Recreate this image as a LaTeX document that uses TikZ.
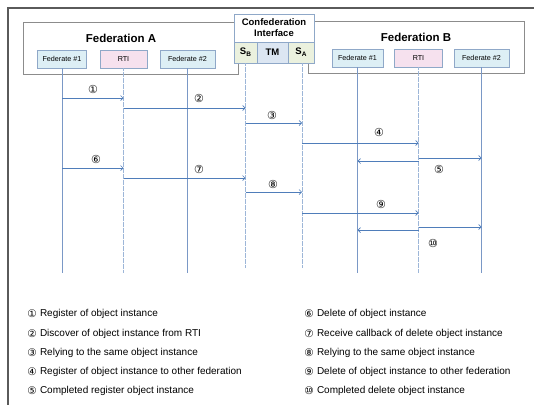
\documentclass[tikz,border=0pt]{standalone}
\usepackage{fontspec}
\setmainfont{Liberation Sans}
\newfontfamily\circfont{DejaVu Sans}
\usetikzlibrary{arrows.meta}
\definecolor{outer}{HTML}{5A5A5A}
\definecolor{boxgray}{HTML}{8C8C8C}
\definecolor{membbord}{HTML}{8FA8C8}
\definecolor{membfill}{HTML}{DDEFF5}
\definecolor{rtifill}{HTML}{F6E1EE}
\definecolor{sfill}{HTML}{EBF1DE}
\definecolor{tmfill}{HTML}{DCE6F2}
\definecolor{lifeblue}{HTML}{7A98C6}
\definecolor{dotblue}{HTML}{9DB6D8}
\definecolor{arrblue}{HTML}{4F7DBA}
\begin{document}
\begin{tikzpicture}[x=1pt,y=-1pt,
  every node/.style={inner sep=0pt, outer sep=0pt},
  fedbox/.style={draw=boxgray, line width=0.8pt},
  member/.style={draw=membbord, fill=membfill, line width=0.6pt, minimum height=18pt, font=\fontsize{7.2}{8}\selectfont},
  rtibox/.style={member, fill=rtifill},
  scell/.style={draw=membbord, fill=sfill, line width=0.6pt, minimum height=21pt, font=\bfseries\fontsize{9.5}{10}\selectfont},
  tmcell/.style={scell, fill=tmfill},
  title/.style={font=\bfseries\fontsize{11.5}{12}\selectfont},
  life/.style={draw=lifeblue, line width=0.7pt},
  dlife/.style={draw=dotblue, line width=0.9pt, dash pattern=on 0.6pt off 0.6pt},
  msg/.style={draw=arrblue, line width=0.7pt, -{Straight Barb[length=2.5pt,width=5pt]}},
  num/.style={font=\circfont\fontsize{11}{11}\selectfont},
  leg/.style={anchor=west, font=\fontsize{10}{12}\selectfont},
  legc/.style={font=\circfont\fontsize{10.5}{11}\selectfont},
]
\useasboundingbox (0,0) rectangle (534,405);
% outer frame (top and left edges)
\draw[outer, line width=1.6pt] (534,8) -- (8,8) -- (8,405);
% federation boxes
\draw[fedbox] (23,22) rectangle (238,74);
\draw[fedbox] (308,21) rectangle (524,73);
% confederation interface
\node[draw=membbord, fill=white, line width=0.6pt, minimum width=80pt, minimum height=28pt,
      align=center, font=\bfseries\fontsize{9.5}{11}\selectfont] (ci) at (274,28) {Confederation\\Interface};
\node[scell, minimum width=23pt] (sb) at (245.5,52.5) {S\raisebox{-2pt}{\fontsize{6.5}{7}\selectfont B}};
\node[tmcell, minimum width=31pt] (tm) at (272.5,52.5) {TM};
\node[scell, minimum width=26pt] (sa) at (301,52.5) {S\raisebox{-2pt}{\fontsize{6.5}{7}\selectfont A}};
% titles
\node[title] (ta) at (121,38) {Federation A};
\node[title] (tb) at (416,37) {Federation B};
% members
\node[member, minimum width=49pt] (fa1) at (62,59) {Federate \#1};
\node[rtibox, minimum width=47pt] (ra) at (123.5,59) {RTI};
\node[member, minimum width=55pt] (fa2) at (187.5,59) {Federate \#2};
\node[member, minimum width=51pt] (fb1) at (357.5,58) {Federate \#1};
\node[rtibox, minimum width=48pt] (rb) at (418.5,58) {RTI};
\node[member, minimum width=55pt] (fb2) at (481.5,58) {Federate \#2};
% lifeline ends
\coordinate (efa1) at (62,273);
\coordinate (era) at (123.5,273);
\coordinate (efa2) at (187.5,273);
\coordinate (esb) at (245.5,268);
\coordinate (esa) at (302,268);
\coordinate (efb1) at (357.5,273);
\coordinate (erb) at (418.5,273);
\coordinate (efb2) at (481.5,273);
\draw[life] (fa1.south) -- (efa1);
\draw[dlife] (ra.south) -- (era);
\draw[life] (fa2.south) -- (efa2);
\draw[dlife] (sb.south) -- (esb);
\draw[dlife] (esa |- sa.south) -- (esa);
\draw[life] (fb1.south) -- (efb1);
\draw[dlife] (rb.south) -- (erb);
\draw[life] (fb2.south) -- (efb2);
% messages
\draw[msg] (fa1 |- 0,98) -- (ra |- 0,98);
\draw[msg] (ra |- 0,108) -- (sb |- 0,108);
\draw[msg] (sb |- 0,123) -- (esa |- 0,123);
\draw[msg] (esa |- 0,143) -- (rb |- 0,143);
\draw[msg] (rb |- 0,161) -- (fb1 |- 0,161);
\draw[msg] (rb |- 0,158) -- (fb2 |- 0,158);
\draw[msg] (fa1 |- 0,168) -- (ra |- 0,168);
\draw[msg] (ra |- 0,178) -- (sb |- 0,178);
\draw[msg] (sb |- 0,192) -- (esa |- 0,192);
\draw[msg] (esa |- 0,213) -- (rb |- 0,213);
\draw[msg] (rb |- 0,230) -- (fb1 |- 0,230);
\draw[msg] (rb |- 0,227) -- (fb2 |- 0,227);
% message labels
\node[num] (n1) at (93,89) {①};
\node[num] (n2) at (199,98) {②};
\node[num] (n3) at (272,115) {③};
\node[num] (n4) at (379,132) {④};
\node[num] (n5) at (439,169) {⑤};
\node[num] (n6) at (96,159) {⑥};
\node[num] (n7) at (199,169) {⑦};
\node[num] (n8) at (273,184) {⑧};
\node[num] (n9) at (381,204) {⑨};
\node[num] (n10) at (433,243) {⑩};
% legend left
\node[legc] (c1) at (32,314) {①}; \node[leg] (l1) at (40,314) {Register of object instance};
\node[legc] (c2) at (32,334) {②}; \node[leg] (l2) at (40,334) {Discover of object instance from RTI};
\node[legc] (c3) at (32,353) {③}; \node[leg] (l3) at (40,353) {Relying to the same object instance};
\node[legc] (c4) at (32,372) {④}; \node[leg] (l4) at (40,372) {Register of object instance to other federation};
\node[legc] (c5) at (32,391) {⑤}; \node[leg] (l5) at (40,391) {Completed register object instance};
% legend right
\node[legc] (c6) at (309,314) {⑥}; \node[leg] (l6) at (317,314) {Delete of object instance};
\node[legc] (c7) at (309,334) {⑦}; \node[leg] (l7) at (317,334) {Receive callback of delete object instance};
\node[legc] (c8) at (309,353) {⑧}; \node[leg] (l8) at (317,353) {Relying to the same object instance};
\node[legc] (c9) at (309,372) {⑨}; \node[leg] (l9) at (317,372) {Delete of object instance to other federation};
\node[legc] (c10) at (309,391) {⑩}; \node[leg] (l10) at (317,391) {Completed delete object instance};
\end{tikzpicture}
\end{document}
